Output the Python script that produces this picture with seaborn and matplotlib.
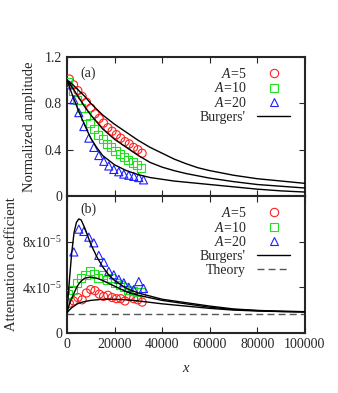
import numpy as np
import matplotlib
matplotlib.use("Agg")
import matplotlib.pyplot as plt
from matplotlib.lines import Line2D
import seaborn as sns

# ---- panel (a): normalized amplitude ----
x_a5 = [1000, 2800, 4600, 6400, 8200, 10000, 11800, 13600, 15400, 17200,
        19000, 20800, 22600, 24400, 26200, 28000, 29800, 31600]
amp_a5 = [1.01, 0.96, 0.91, 0.86, 0.81, 0.76, 0.71, 0.67, 0.63, 0.59,
          0.56, 0.53, 0.50, 0.47, 0.45, 0.42, 0.40, 0.37]
x_a10 = [600, 2400, 4200, 6000, 7800, 9600, 11400, 13200, 15000, 16800,
         18600, 20400, 22200, 24000, 25800, 27600, 29400, 31200]
amp_a10 = [0.98, 0.91, 0.83, 0.76, 0.69, 0.63, 0.58, 0.53, 0.49, 0.45,
           0.42, 0.39, 0.36, 0.34, 0.31, 0.29, 0.27, 0.24]
x_a20 = [800, 2900, 5000, 7100, 9200, 11300, 13400, 15500, 17600, 19700,
         21800, 23900, 26000, 28100, 30200, 32200]
amp_a20 = [0.96, 0.83, 0.72, 0.60, 0.50, 0.42, 0.35, 0.30, 0.26, 0.23,
           0.21, 0.19, 0.18, 0.17, 0.16, 0.14]

x_burg_a = [0, 2500, 5000, 7500, 10000, 12500, 15000, 20000, 25000, 30000,
            35000, 40000, 45000, 50000, 55000, 60000, 70000, 80000, 90000, 100000]
burg_a5 = [1.0, 0.96, 0.91, 0.86, 0.80, 0.75, 0.70, 0.62, 0.55, 0.48,
           0.42, 0.37, 0.32, 0.28, 0.245, 0.22, 0.18, 0.15, 0.13, 0.11]
burg_a10 = [1.0, 0.93, 0.85, 0.77, 0.70, 0.64, 0.58, 0.49, 0.42, 0.35,
            0.29, 0.25, 0.22, 0.195, 0.175, 0.155, 0.125, 0.10, 0.085, 0.07]
burg_a20 = [1.0, 0.86, 0.73, 0.61, 0.50, 0.42, 0.35, 0.27, 0.22, 0.185,
            0.16, 0.145, 0.13, 0.12, 0.11, 0.10, 0.08, 0.06, 0.045, 0.035]

# ---- panel (b): attenuation coefficient ----
xb_a5 = [1000, 2800, 4600, 6400, 8200, 10000, 11800, 13600, 15400, 17200,
         19000, 20800, 22600, 24400, 26200, 28000, 29800, 31600]
att_a5 = [2.6e-5, 2.8e-5, 3.1e-5, 2.9e-5, 3.5e-5, 3.8e-5, 3.7e-5, 3.4e-5,
          3.2e-5, 3.3e-5, 3.1e-5, 3.0e-5, 3.0e-5, 2.8e-5, 3.2e-5, 3.0e-5,
          2.9e-5, 2.7e-5]
xb_a10 = [600, 2400, 4200, 6000, 7800, 9600, 11400, 13200, 15000, 16800,
          18600, 20400, 22200, 24000, 25800, 27600, 29400, 31200]
att_a10 = [3.4e-5, 3.8e-5, 4.4e-5, 4.8e-5, 5.1e-5, 5.4e-5, 5.2e-5, 4.8e-5,
           5.1e-5, 4.6e-5, 4.8e-5, 4.4e-5, 4.2e-5, 4.0e-5, 3.8e-5, 3.7e-5,
           3.6e-5, 3.6e-5]
xb_a20 = [2900, 5000, 7100, 9200, 11300, 13400, 15500, 17600, 19700, 21800,
          23900, 26000, 28100, 30200, 32200]
att_a20 = [7.1e-5, 9.1e-5, 8.9e-5, 8.4e-5, 7.9e-5, 6.8e-5, 6.2e-5, 5.4e-5,
           5.1e-5, 4.7e-5, 4.4e-5, 4.0e-5, 3.8e-5, 4.5e-5, 3.9e-5]

x_burg_b = [0, 1000, 2000, 3000, 4000, 5000, 6000, 7500, 10000, 12500, 15000,
            17500, 20000, 25000, 30000, 40000, 50000, 60000, 70000, 80000,
            90000, 100000]
burgb_a5 = [1.75e-5, 2.0e-5, 2.2e-5, 2.35e-5, 2.5e-5, 2.6e-5, 2.67e-5, 2.75e-5,
            2.85e-5, 2.9e-5, 2.95e-5, 2.95e-5, 2.95e-5, 2.9e-5, 2.8e-5, 2.55e-5,
            2.35e-5, 2.15e-5, 2.0e-5, 1.92e-5, 1.87e-5, 1.83e-5]
burgb_a10 = [1.75e-5, 2.5e-5, 3.0e-5, 3.5e-5, 3.95e-5, 4.3e-5, 4.55e-5, 4.8e-5,
             4.9e-5, 4.8e-5, 4.6e-5, 4.35e-5, 4.1e-5, 3.6e-5, 3.3e-5, 2.85e-5,
             2.55e-5, 2.25e-5, 2.05e-5, 1.95e-5, 1.88e-5, 1.85e-5]
burgb_a20 = [1.75e-5, 4.5e-5, 7.0e-5, 8.8e-5, 9.7e-5, 1.0e-4, 9.9e-5, 9.2e-5,
             7.8e-5, 6.7e-5, 5.8e-5, 5.1e-5, 4.6e-5, 3.9e-5, 3.5e-5, 2.95e-5,
             2.65e-5, 2.35e-5, 2.1e-5, 1.97e-5, 1.9e-5, 1.86e-5]
theory_x = [0, 100000]
theory_y = [1.65e-5, 1.65e-5]

labels = ["$A$=5", "$A$=10", "$A$=20"]
colors = ["#ff2020", "#20e020", "#2020ff"]
markers = ["o", "s", "^"]

sns.set_style("ticks")
plt.rcParams["font.family"] = ["Liberation Serif", "DejaVu Serif"]
plt.rcParams["mathtext.fontset"] = "custom"
plt.rcParams["mathtext.it"] = "Liberation Serif:italic"
plt.rcParams["mathtext.rm"] = "Liberation Serif"
plt.rcParams["font.size"] = 10

fig = plt.figure(figsize=(3.38, 3.93), dpi=100)
ax1 = fig.add_axes([0.198, 0.501, 0.704, 0.354])
ax2 = fig.add_axes([0.198, 0.153, 0.704, 0.348])


def draw_points(ax, xs, ys, c, m):
    sns.scatterplot(x=xs, y=ys, ax=ax, marker=m, s=34, color="none",
                    edgecolor=c, linewidth=0.8, zorder=3)


for xs, ys, c, m in zip([x_a5, x_a10, x_a20], [amp_a5, amp_a10, amp_a20], colors, markers):
    draw_points(ax1, xs, ys, c, m)
for ys in [burg_a5, burg_a10, burg_a20]:
    sns.lineplot(x=x_burg_a, y=ys, ax=ax1, color="black", linewidth=1.0, zorder=4)

for xs, ys, c, m in zip([xb_a5, xb_a10, xb_a20], [att_a5, att_a10, att_a20], colors, markers):
    draw_points(ax2, xs, ys, c, m)
for ys in [burgb_a5, burgb_a10, burgb_a20]:
    sns.lineplot(x=x_burg_b, y=ys, ax=ax2, color="black", linewidth=1.0, zorder=4)
sns.lineplot(x=theory_x, y=theory_y, ax=ax2, color="#555555", linewidth=1.0,
             dashes=False, linestyle=(0, (5, 3)))

for ax in [ax1, ax2]:
    ax.set_xlim(0, 100000)
    ax.set_xticks([0, 20000, 40000, 60000, 80000, 100000])
    ax.tick_params(direction="in", top=True, right=True, length=4, width=0.8,
                   labelsize=10)
    for sp in ax.spines.values():
        sp.set_linewidth(1.5)
    ax.grid(False)

ax1.set_ylim(0, 1.2)
ax1.set_yticks([0, 0.4, 0.8, 1.2])
ax1.set_yticklabels(["0", "0.4", "0.8", "1.2"])
ax1.set_xticklabels([])
ax1.set_ylabel("Normalized amplitude", fontsize=10.5, labelpad=6)
ax1.text(0.055, 0.93, "(a)", transform=ax1.transAxes, fontsize=10, va="top")

ax2.set_ylim(0, 1.2e-4)
ax2.set_yticks([0, 4e-5, 8e-5])
ax2.set_yticklabels(["0", "4x10$^{-5}$", "8x10$^{-5}$"])
ax2.set_xticklabels(["0", "20000", "40000", "60000", "80000", "100000"])
ax2.set_xlabel("$x$", fontsize=10.5, labelpad=8)
ax2.set_ylabel("Attenuation coefficient", fontsize=10.5, labelpad=3)
ax2.text(0.055, 0.95, "(b)", transform=ax2.transAxes, fontsize=10, va="top")


def make_handles(with_theory):
    hs = [Line2D([], [], linestyle="none", marker=m, markersize=6,
                 markerfacecolor="none", markeredgecolor=c, markeredgewidth=0.8)
          for c, m in zip(colors, markers)]
    hs.append(Line2D([], [], color="black", linewidth=1.0))
    labs = labels + ["Burgers'"]
    if with_theory:
        hs.append(Line2D([], [], color="#555555", linewidth=1.0, linestyle=(0, (5, 3))))
        labs = labs + ["Theory"]
    return hs, labs


for ax, th in [(ax1, False), (ax2, True)]:
    hs, labs = make_handles(th)
    ax.legend(hs, labs, loc="upper right", bbox_to_anchor=(0.98, 1.0),
              frameon=False, markerfirst=False, fontsize=10,
              handlelength=2.4, handletextpad=0.8, labelspacing=0.05,
              borderaxespad=0.3)

fig.savefig("out.png", dpi=100)
